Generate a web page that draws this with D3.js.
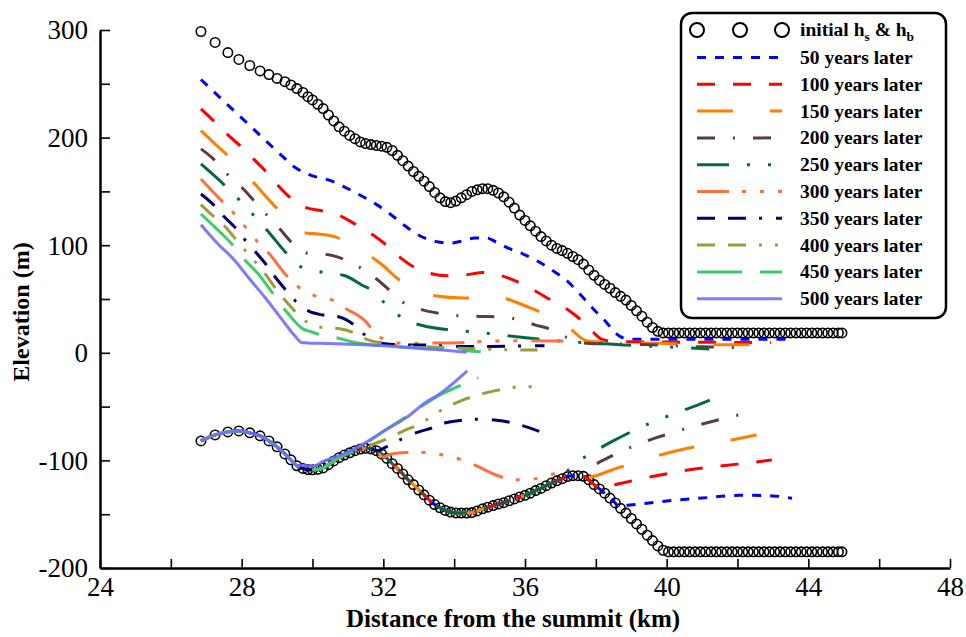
<!DOCTYPE html>
<html><head><meta charset="utf-8">
<script src="https://cdn.jsdelivr.net/npm/d3@7"></script>
<style>
html,body{margin:0;padding:0;background:#fff;}
svg{display:block;font-family:"Liberation Serif","Times New Roman",serif;}
</style></head><body>
<svg id="chart" width="966" height="637"></svg>
<script>
// ---------- DATA ----------
const xTickLabels = [24, 28, 32, 36, 40, 44, 48];
const xMinorTicks = [26, 30, 34, 38, 42, 46];
const yTickLabels = [-200, -100, 0, 100, 200, 300];
const yMinorTicks = [-150, -50, 50, 150, 250];

// grid nodes (km) of the initial profiles
const nodeKm = [26.85,27.25,27.61,27.92,28.23,28.52,28.77,29.0,29.22,29.39,29.56,29.73,29.87,
30.00,30.15,30.30,30.45,30.60,30.75,30.90,31.05,31.20,31.35,31.50,31.65,31.80,31.95,32.10,32.25,32.40,32.55,32.70,32.85,
33.00,33.15,33.30,33.45,33.60,33.75,33.90,34.05,34.20,34.35,34.50,34.65,34.80,34.95,35.10,35.25,35.40,35.55,35.70,35.85,
36.00,36.15,36.30,36.45,36.60,36.75,36.90,37.05,37.20,37.35,37.50,37.65,37.80,37.95,38.10,38.25,38.40,38.55,38.70,38.85,
39.00,39.15,39.30,39.45,39.60,39.75,39.90,
40.05,40.20,40.35,40.50,40.65,40.80,40.95,41.10,41.25,41.40,41.55,41.70,41.85,42.00,42.15,42.30,42.45,42.60,42.75,42.90,
43.05,43.20,43.35,43.50,43.65,43.80,43.95,44.10,44.25,44.40,44.55,44.70,44.85,44.95];

const initialSurface = [298.6,288.4,279,272.6,267,262,258.6,255,252,249,245.6,242,238,
235,231,227,221,215.5,210,206,202,199,196,194.5,193.5,192.7,192,191,188,183.5,178.5,173.5,168.5,
164,159.5,154.5,149,144,140.5,139.5,141,144,147,150,151.5,152.5,152.5,151,148.5,145,140,134.5,128,
123,118,113,108,104,100,97,95,92.5,89.5,86.5,82.5,77,72,67.5,63.5,60,56,52.5,49,
44,39,34,28.5,23.5,20,18.5,
18.5,18.5,18.5,18.5,18.5,18.5,18.5,18.5,18.5,18.5,18.5,18.5,18.5,18.5,18.5,18.5,18.5,18.5,18.5,18.5,
18.5,18.5,18.5,18.5,18.5,18.5,18.5,18.5,18.5,18.5,18.5,18.5,18.5,18.5];

const initialBed = [-81.9,-76.3,-73.5,-72.6,-74.4,-77.2,-81.9,-87.4,-94,-99.5,-105,-107.5,-108.5,
-108.8,-108.3,-107,-104,-100.5,-97.5,-95,-93,-91,-89.5,-88.8,-89.3,-91,-94,-98,-103,-107.5,-112.6,-118,-122.5,
-127.5,-132,-137,-141,-144,-146.5,-148,-148.8,-149,-149,-148.5,-147,-145,-143.5,-142,-140.5,-139.3,-137.5,-135.8,-134,
-132.5,-130.5,-128,-126,-123.5,-121,-119,-117,-115,-114.2,-114.2,-114.8,-118,-122.5,-126.5,-130.5,-135,-139.5,-144.5,-149,
-154,-159,-164,-169.5,-174.5,-179.5,-183.5,
-185,-185,-185,-185,-185,-185,-185,-185,-185,-185,-185,-185,-185,-185,-185,-185,-185,-185,-185,-185,
-185,-185,-185,-185,-185,-185,-185,-185,-185,-185,-185,-185,-185,-185];

const seriesLabels = ["50 years later","100 years later","150 years later","200 years later","250 years later",
  "300 years later","350 years later","400 years later","450 years later","500 years later"];

// surface elevation h_s [km, m]
const surface50 = [[26.85,254],[27.62,230],[28.38,206.5],[29.13,183.3],[29.5,172.4],[29.98,164.7],[30.45,160.7],[30.92,153.8],[31.43,145],[31.81,137.7],[32.19,129],[32.61,118],[33.03,108.8],[33.5,103.3],[33.88,102],[34.26,104.2],[34.59,106.7],[34.92,106.7],[35.2,102.6],[35.58,96.5],[35.95,91.8],[36.42,84],[36.8,76],[37.18,67],[37.55,54.6],[37.93,40.7],[38.3,28.2],[38.59,17.4],[38.8,13.5],[38.96,12.7],[40,12.7],[43.6,12.7]];
const surface100 = [[26.85,226.7],[27.2,215.8],[27.58,203.4],[27.95,192.6],[28.33,180.2],[28.66,169.3],[29.03,155.3],[29.36,144.5],[29.79,135.2],[30.26,132],[30.78,127.4],[31.2,119.7],[31.67,110.4],[32.05,101.1],[32.47,88.7],[32.85,80],[33.32,73.8],[33.79,71.6],[34.35,72.6],[34.82,74.7],[35.34,71.6],[35.76,66.3],[36.28,57.7],[36.7,49.5],[37.18,40.7],[37.5,32.8],[37.93,18.9],[38.16,12.7],[38.5,10.5],[40,10],[42.95,9.6]];
const surface150 = [[26.85,206.5],[27.2,195.6],[27.58,184.2],[28.33,158.4],[28.94,136.1],[29.4,122],[29.74,111.9],[30.16,110.4],[30.68,107.3],[31.1,100],[31.62,90.2],[32.0,80.9],[32.38,69.5],[32.85,60],[33.32,53.7],[34.26,50.9],[35.29,51.4],[35.75,47],[36.19,41.2],[36.7,34],[37.18,25.1],[37.74,11.2],[38.3,9.6],[40.0,8.7],[41.03,7.4],[42.5,7.4]];
const surface200 = [[26.85,189.5],[27.2,180.2],[27.59,166.2],[28.0,153.8],[28.33,142],[28.71,128.1],[29.08,115],[29.41,102.6],[29.88,92.4],[30.45,91.2],[30.87,87.1],[31.39,78.3],[31.81,68.6],[32.19,57.7],[32.56,46.8],[33.13,39.7],[33.6,36.6],[34.16,34.4],[34.73,33.8],[35.2,33.5],[35.76,31.3],[36.28,26],[36.7,22],[37.2,14],[37.6,9.5],[37.83,8.7],[39.33,7.7],[40.94,5.6],[42.18,4.9]];
const surface250 = [[26.85,175.5],[27.48,156.9],[27.89,143.5],[28.33,128.1],[28.73,113.5],[29.27,92.4],[29.71,79.3],[30.3,74.7],[30.92,71.6],[31.43,62.3],[31.62,59.3],[32.05,45.9],[32.54,32.3],[33.13,25.1],[33.88,21.4],[34.54,19.5],[35.15,17.4],[35.76,14.9],[36.5,12.2],[37.18,10.5],[37.83,9],[38.39,8.1],[39.25,6.5],[39.86,5.6],[40.47,4.9],[41.2,3.5]];
const surface300 = [[26.85,161.6],[27.43,141.4],[27.76,130.5],[28.09,117.5],[28.42,104.2],[28.75,93.3],[29.27,71.6],[29.62,60.7],[30.07,53],[30.56,49],[30.96,40.7],[31.48,29.8],[31.62,24.5],[31.95,13.7],[32.42,9],[32.89,8.7],[33.4,9],[34.26,9.6],[34.73,10.5],[35.67,11.2],[36.7,11],[37.25,10.8]];
const surface350 = [[26.85,147.6],[27.2,137.7],[27.48,127.4],[27.81,116.6],[28.09,105.1],[28.38,94.2],[28.68,82.5],[28.94,70.7],[29.22,59.3],[29.51,48.4],[29.88,39],[30.26,35.3],[30.73,33.5],[31.15,26.5],[31.45,17.4],[31.75,11],[32.0,8.7],[32.75,7.2],[33.13,7.2],[34.07,5.9],[35.0,5.9],[35.5,6],[36.28,6.5],[36.55,6.5]];
const surface400 = [[26.85,137.7],[27.15,128.4],[27.51,118.1],[27.79,107.3],[28.09,95.5],[28.4,84],[28.68,72.6],[28.94,60.7],[29.22,49],[29.51,38.4],[29.86,28.2],[30.29,23.5],[30.73,22.5],[31.15,18.9],[31.5,13],[32.0,8.5],[32.47,6.5],[33.3,5.5],[34.16,4.3],[34.63,3.7],[35.3,3],[35.95,2.5],[36.35,2.5]];
const surface450 = [[26.85,129],[27.25,116.6],[27.72,101.1],[28.09,86.2],[28.47,73.2],[28.86,56.1],[29.2,40.7],[29.32,36],[29.74,22],[29.93,19.8],[30.45,14.9],[30.63,14.2],[31.2,9.6],[32.0,6.5],[33.0,4.5],[34.0,2.5],[34.75,1]];
const surface500 = [[26.85,119],[27.29,102.6],[27.81,85.6],[28.19,70],[28.66,51.4],[29.13,31.3],[29.5,15.8],[29.69,9.6],[29.85,9.2],[30.45,8.7],[31.48,7.4],[32.5,5.5],[33.5,3],[34.35,0.5]];

// bed elevation h_b: follows the initial bed up to bedDepartKm, then these points [km, m]
const bedDepartKm = [38.6, 38.06, 37.65, 37.35, 37.0, 31.9, 31.75, 31.45, 31.2, 29.6];
const bed50 = [[38.62,-142.3],[38.96,-141.4],[39.5,-139.5],[40.0,-137.7],[41.0,-135],[42.07,-132.4],[43.0,-133],[43.54,-135.2]];
const bed100 = [[38.06,-126.5],[38.62,-122],[39.6,-115],[40.6,-109],[41.59,-105],[42.63,-101],[42.97,-99.5]];
const bed150 = [[37.69,-116],[38.59,-107.3],[39.62,-96.7],[40.56,-89],[41.6,-82.5],[42.54,-76.3]];
const bed200 = [[37.4,-114],[37.69,-109],[38.21,-99.8],[38.59,-93.7],[39.13,-85.9],[39.67,-79.3],[40.09,-75],[40.64,-69.5],[41.17,-64.8],[41.65,-60.8],[42.18,-56.5]];
const bed250 = [[37.0,-116],[37.46,-102],[37.98,-91.2],[38.49,-81.9],[39.25,-69.5],[39.81,-61.7],[40.38,-54.6],[40.94,-47.7],[41.22,-44]];
const bed300 = [[32.0,-97],[32.19,-94.2],[32.66,-92.7],[33.18,-92.7],[33.7,-95],[34.16,-98.9],[34.63,-105],[35.0,-111],[35.39,-116],[35.86,-118],[36.38,-116.6],[36.9,-112.3],[37.25,-113]];
const bed350 = [[31.81,-91],[32.14,-86.5],[32.54,-79.7],[32.94,-74.1],[33.41,-69.5],[33.79,-64.8],[34.26,-62.6],[34.68,-61.7],[35.2,-62.6],[35.95,-67.9],[36.45,-73.5]];
const bed400 = [[31.45,-89.5],[31.62,-86.5],[32.19,-78.8],[32.6,-72],[33.03,-66.4],[33.5,-56],[34.07,-46.2],[34.7,-39],[35.39,-33.8],[35.86,-31.6],[36.33,-31.6]];
const bed450 = [[31.2,-90.5],[31.53,-83.4],[32.05,-72],[32.5,-62.5],[33.03,-50.9],[33.55,-40],[34.1,-31.5],[34.68,-23]];
const bed500 = [[29.65,-104.5],[30.02,-105.5],[30.3,-101],[30.8,-95],[31.34,-86.5],[31.7,-79.5],[32.05,-72],[32.66,-60],[33.2,-46],[33.6,-38],[33.95,-29],[34.26,-20],[34.37,-16.7]];

// ---------- STYLE ----------
const seriesColors = ["#0000ff","#ff0000","#ff7f00","#5e3c3c","#006b3c","#ff6f40","#00006e","#9c9c3a","#3ccc6a","#6e6eff"];
const seriesDash = ["9,9","18,18","36,37","18,18,2,18","32,18,3,18,3,18","32,13,4,14,4,14,4,14",
  "18,13,18,13,3,14","18,13,18,13,3,13,3,13","45,18",null];

// ---------- BUILD ----------
const surfaces = [surface50,surface100,surface150,surface200,surface250,surface300,surface350,surface400,surface450,surface500];
const bedBranches = [bed50,bed100,bed150,bed200,bed250,bed300,bed350,bed400,bed450,bed500];
const initSurfPts = nodeKm.map((k,i)=>[k, initialSurface[i]]);
const initBedPts = nodeKm.map((k,i)=>[k, initialBed[i]]);
const beds = bedBranches.map((br,i)=> initBedPts.filter(p=>p[0] < bedDepartKm[i]).concat(br));

const svg = d3.select("#chart");
const x = d3.scaleLinear().domain([24,48]).range([100,950]);
const y = d3.scaleLinear().domain([-200,300]).range([568,30]);
const serif = '"Liberation Serif","Times New Roman",serif';

// axes
function styleAxis(g){
  g.attr("font-family", serif);
  g.select(".domain").attr("stroke","#000").attr("stroke-width",2.5);
  g.selectAll(".tick line").attr("stroke","#000").attr("stroke-width",1.6);
  g.selectAll("text").attr("fill","#000").style("font-family",serif).style("font-size","27px");
}
const yAxis = d3.axisLeft(y).tickValues(yTickLabels.concat(yMinorTicks)).tickSize(-10).tickSizeOuter(0)
  .tickPadding(12).tickFormat(d=> yTickLabels.includes(d) ? String(d) : "");
const gy = svg.append("g").attr("transform",`translate(${x(24)},0)`).call(yAxis);
styleAxis(gy);
gy.selectAll("text").attr("dy","0.33em");

const xAxis = d3.axisBottom(x).tickValues(xTickLabels.concat(xMinorTicks)).tickSize(-9).tickSizeOuter(0)
  .tickPadding(9).tickFormat(d=> xTickLabels.includes(d) ? String(d) : "");
const gx = svg.append("g").attr("transform",`translate(0,${y(-200)})`).call(xAxis);
styleAxis(gx);

// axis titles
svg.append("text").attr("x", 513).attr("y", 627).attr("text-anchor","middle")
  .style("font-weight","bold").style("font-size","25px").text("Distance from the summit (km)");
svg.append("text").attr("transform",`translate(29,312) rotate(-90)`).attr("text-anchor","middle")
  .style("font-weight","bold").style("font-size","24px").text("Elevation (m)");

// initial profiles as circles
const plot = svg.append("g");
plot.append("g").selectAll("circle").data(initSurfPts.concat(initBedPts)).join("circle")
  .attr("cx",d=>x(d[0])).attr("cy",d=>y(d[1])).attr("r",4.7)
  .attr("fill","none").attr("stroke","#000").attr("stroke-width",1.6);

const line = d3.line().x(d=>x(d[0])).y(d=>y(d[1])).curve(d3.curveMonotoneX);
surfaces.forEach((s,i)=>{
  [s, beds[i]].forEach(pts=>{
    plot.append("path").attr("d",line(pts)).attr("fill","none")
      .attr("stroke",seriesColors[i]).attr("stroke-width",3)
      .attr("stroke-dasharray",seriesDash[i]).attr("stroke-opacity", i===9?0.9:1);
  });
});

// legend
const lg = svg.append("g");
lg.append("rect").attr("x",681).attr("y",13).attr("width",265).attr("height",305).attr("rx",11)
  .attr("fill","#fff").attr("stroke","#000").attr("stroke-width",2.5);
const lx0 = 697, lx1 = 782, tx = 800;
const legendFont = "19.5px";
lg.selectAll("circle").data([697,740,782]).join("circle")
  .attr("cx",d=>d).attr("cy",30).attr("r",7).attr("fill","none").attr("stroke","#000").attr("stroke-width",2);
const t0 = lg.append("text").attr("x",tx).attr("y",36).style("font-weight","bold").style("font-size",legendFont);
t0.append("tspan").text("initial h");
t0.append("tspan").attr("dy",5).style("font-size","13.5px").text("s");
t0.append("tspan").attr("dy",-5).text(" & h");
t0.append("tspan").attr("dy",5).style("font-size","13.5px").text("b");
seriesLabels.forEach((lab,i)=>{
  const cy = 57.5 + i*26.8;
  lg.append("line").attr("x1",lx0).attr("x2",lx1).attr("y1",cy).attr("y2",cy)
    .attr("stroke",seriesColors[i]).attr("stroke-width",3).attr("stroke-dasharray",seriesDash[i])
    .attr("stroke-opacity", i===9?0.9:1);
  lg.append("text").attr("x",tx).attr("y",cy+6.5).style("font-weight","bold").style("font-size",legendFont).text(lab);
});
</script>
</body></html>
